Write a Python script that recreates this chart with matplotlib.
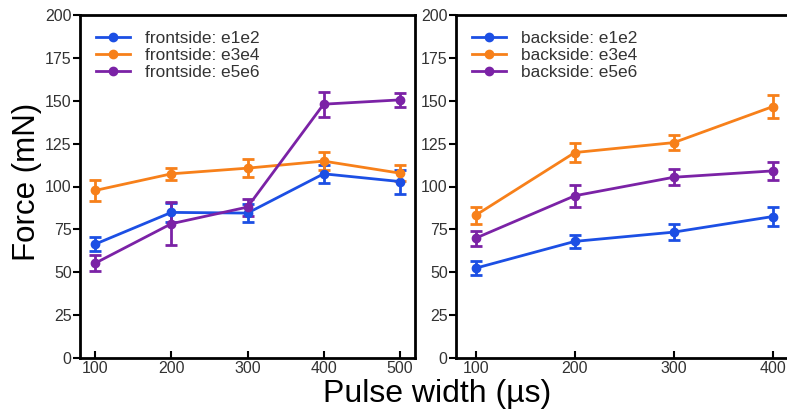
import matplotlib
matplotlib.use("Agg")
import matplotlib.pyplot as plt
from matplotlib.lines import Line2D

plt.rcParams['font.family'] = ['Liberation Sans', 'DejaVu Sans']

pulse_front = [100, 200, 300, 400, 500]
pulse_back = [100, 200, 300, 400]

front_e1e2 = [66.4, 84.9, 84.5, 107.4, 102.9]
front_e1e2_err = [4.0, 5.5, 5.3, 5.3, 7.0]
front_e3e4 = [97.7, 107.4, 110.7, 114.8, 107.8]
front_e3e4_err = [6.0, 3.5, 5.3, 5.4, 4.5]
front_e5e6 = [55.3, 78.3, 88.0, 148.0, 150.5]
front_e5e6_err = [4.5, 12.4, 5.0, 7.3, 4.0]

back_e1e2 = [52.4, 68.0, 73.4, 82.5]
back_e1e2_err = [3.9, 3.9, 4.6, 5.6]
back_e3e4 = [83.3, 119.8, 125.6, 146.6]
back_e3e4_err = [4.9, 5.4, 4.4, 6.9]
back_e5e6 = [69.9, 94.6, 105.4, 109.1]
back_e5e6_err = [4.4, 6.4, 4.8, 5.4]

labels_front = ["frontside: e1e2", "frontside: e3e4", "frontside: e5e6"]
labels_back = ["backside: e1e2", "backside: e3e4", "backside: e5e6"]
colors = ["#1c4fe4", "#f7801a", "#7b22a6"]
yticks = [0, 25, 50, 75, 100, 125, 150, 175, 200]

W, H = 787, 417
fig = plt.figure(figsize=(W / 100, H / 100), dpi=100)

ax1 = fig.add_axes([80 / W, 1 - 358 / H, (415 - 80) / W, (358 - 15) / H])
ax2 = fig.add_axes([456 / W, 1 - 358 / H, 341.6 / W, (358 - 15) / H])

def draw(ax, x, series, errs, labels, xlim):
    handles = []
    for y, e, lab, c in zip(series, errs, labels, colors):
        ax.errorbar(x, y, yerr=e, color=c, lw=2, marker='o', ms=6,
                    capsize=4, capthick=2, elinewidth=2)
        handles.append(Line2D([], [], color=c, lw=2, marker='o', ms=6))
    ax.set_xlim(*xlim)
    ax.set_ylim(0, 200)
    ax.set_yticks(yticks)
    ax.set_xticks(x)
    for s in ax.spines.values():
        s.set_linewidth(2)
    ax.tick_params(axis='y', direction='out', length=5, width=1.5,
                   labelsize=11.5, labelcolor='#333333', pad=1)
    ax.tick_params(axis='x', direction='in', length=5, width=1.5,
                   labelsize=11.5, labelcolor='#333333', pad=2)
    leg = ax.legend(handles, labels, loc='upper left', frameon=False,
                    fontsize=12.4, labelspacing=0.12, handlelength=2.0,
                    borderaxespad=0.5, handletextpad=0.9)
    for t in leg.get_texts():
        t.set_color('#333333')

draw(ax1, pulse_front, [front_e1e2, front_e3e4, front_e5e6],
     [front_e1e2_err, front_e3e4_err, front_e5e6_err], labels_front, (80, 520))
draw(ax2, pulse_back, [back_e1e2, back_e3e4, back_e5e6],
     [back_e1e2_err, back_e3e4_err, back_e5e6_err], labels_back, (80, 425))

fig.text(27 / W, 1 - 182 / H, "Force (mN)", rotation=90, fontsize=22.5,
         ha='center', va='center')
fig.text(437 / W, 1 - 402 / H, "Pulse width (µs)", fontsize=23,
         ha='center', va='baseline')

fig.savefig("out.png", dpi=100)
